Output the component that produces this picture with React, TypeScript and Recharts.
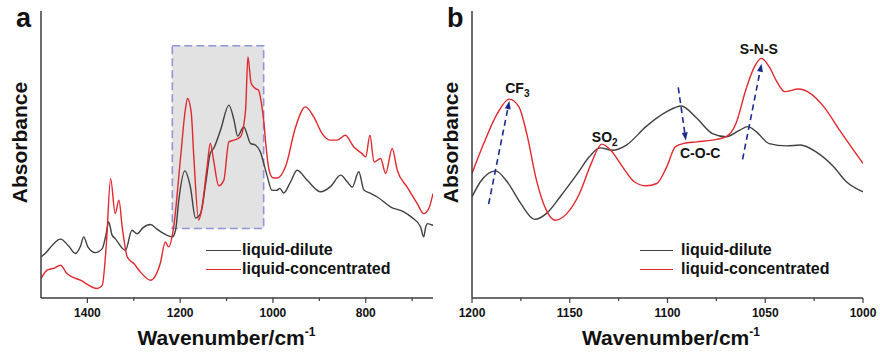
import React from 'react';
import { LineChart, Line, XAxis, YAxis, ReferenceArea, ReferenceLine, ReferenceDot, Legend } from 'recharts';

const FONT = '"Liberation Sans", Arial, Helvetica, sans-serif';
const INK = '#111';
const FRAME = '#3c3c3c';
const DILUTE = '#404040';
const CONC = '#e0282e';
const ARROW = '#1c2a8c';

// panel a: full spectrum
const waveA_dilute = [1500, 1491, 1475, 1458, 1440, 1426, 1415, 1408, 1399, 1383, 1368, 1360, 1354, 1347, 1340, 1318, 1304, 1293, 1280, 1264, 1250, 1235, 1217, 1210, 1203, 1190, 1178, 1167, 1156, 1145, 1135, 1128, 1113, 1095, 1084, 1076, 1063, 1048, 1038, 1027, 1020, 1012, 1002, 992, 985, 977, 962, 948, 926, 897, 876, 854, 840, 829, 815, 804, 790, 775, 746, 718, 700, 682, 675, 671, 667, 655];
const absA_dilute = [14.3, 15.5, 18.5, 20.5, 18, 15.5, 18, 21.3, 17.8, 15.8, 17.2, 22, 26.5, 22, 20.7, 16.6, 23.6, 22.4, 24.5, 25.6, 24, 22.4, 21.3, 23.6, 34.1, 44.3, 38.7, 27.9, 29.4, 39.9, 50.5, 52.1, 58.5, 67.2, 62.0, 56.4, 59.6, 53.8, 53.3, 50.9, 47, 42.2, 37.5, 37.5, 38.2, 36.6, 40.5, 44.5, 41.0, 37.0, 38.8, 42.8, 40.5, 38.7, 44.0, 37.6, 36.5, 35.2, 31.7, 30.0, 28, 24.8, 21.3, 24.5, 25.9, 25.3];

const waveA_conc = [1500, 1487, 1470, 1458, 1444, 1415, 1379, 1368, 1359, 1350, 1340, 1332, 1325, 1314, 1300, 1286, 1264, 1243, 1232, 1225, 1214, 1199, 1189, 1184, 1176, 1171, 1160, 1153, 1142, 1135, 1128, 1117, 1106, 1095, 1084, 1070, 1059, 1054, 1047, 1038, 1031, 1025, 1020, 1015, 1010, 1004, 998, 991, 973, 951, 930, 912, 894, 876, 862, 844, 826, 808, 800, 791, 782, 768, 757, 743, 732, 711, 689, 675, 664, 655];
const absA_conc = [6.7, 9.7, 10.5, 11.4, 8.5, 6.2, 3.3, 4.4, 19.0, 41.6, 29.4, 34.1, 24.8, 14.3, 12.0, 9.1, 6.2, 12.0, 19.5, 17.8, 24.8, 49.2, 65.5, 69.5, 64.3, 50.3, 27.1, 31.7, 45.7, 53.9, 48.0, 39.1, 41.0, 54.4, 55.0, 56.2, 65.5, 84.0, 74.8, 73.0, 72.4, 68, 62, 53, 46, 42.5, 41.8, 41.8, 45.7, 59.7, 66.6, 63.1, 57.3, 55.0, 55.0, 56.7, 52.7, 50.3, 49.2, 56.7, 47.4, 48.6, 43.4, 52.1, 44.5, 38.7, 32.9, 29.4, 31.2, 36.4];

// panel b: 1200-1000 zoom
const waveB_dilute = [1200, 1195.7, 1188, 1182, 1175, 1168, 1162, 1155, 1146, 1140, 1134.5, 1128, 1121, 1111, 1100.4, 1093, 1085, 1077, 1070, 1063, 1059, 1054.5, 1048, 1039, 1032, 1024, 1015, 1008.5, 1000];
const absB_dilute = [35.2, 40.5, 44.3, 40.5, 32.9, 27.4, 29.4, 35.2, 43.4, 49.2, 52.3, 51.5, 53.3, 59.7, 64.9, 66.9, 62.6, 57.3, 56.2, 58.5, 59.7, 57.9, 53.8, 53.0, 53.3, 50.9, 45.7, 40.5, 37.0];

const waveB_conc = [1200, 1194, 1187, 1181, 1176, 1172, 1167, 1162, 1157.5, 1151.5, 1145, 1139, 1133.6, 1129, 1123, 1117, 1111, 1105.5, 1100.4, 1096, 1092, 1085, 1077, 1070, 1065, 1060, 1055.5, 1052, 1048, 1044, 1040, 1033, 1027, 1020, 1012, 1000];
const absB_conc = [43.4, 53.8, 64.3, 69.3, 66.6, 57.3, 41.0, 30.6, 27.1, 29.4, 36.4, 46.9, 53.6, 51.5, 45.7, 40.5, 39.1, 39.9, 45.7, 52.7, 53.8, 54.4, 55.0, 56.2, 60.8, 72.4, 80.6, 83.5, 80.6, 75.3, 71.9, 72.8, 71.3, 66.6, 58.5, 46.9];

const ticksA = [1400, 1300, 1200, 1100, 1000, 900, 800, 700];
const majorA = [1400, 1200, 1000, 800];
const ticksB = [1200, 1175, 1150, 1125, 1100, 1075, 1050, 1025, 1000];
const majorB = [1200, 1150, 1100, 1050, 1000];

const SERIES = ['liquid-dilute', 'liquid-concentrated'];

// highlighted region in panel a
const boxA = { x1: 1217, x2: 1020, y1: 24.2, y2: 87.9 };

// panel b annotations
const peakLabels = [
  { x: 1183, y: 71.3, main: 'CF', sub: '3' },
  { x: 1138.7, y: 54.4, main: 'SO', sub: '2' },
  { x: 1093.6, y: 48.7, main: 'C-O-C', sub: '' },
  { x: 1063, y: 85.0, main: 'S-N-S', sub: '' },
];
const shiftArrows = [
  { from: [1191.5, 32.7], to: [1180.9, 68.6] },
  { from: [1094.5, 73.4], to: [1090.6, 54.9] },
  { from: [1061.6, 48.3], to: [1051.9, 81.6] },
];

const pts = (xs: number[], ys: number[]) => xs.map((x, i) => ({ x, y: ys[i] }));

const makeTick = (majors: number[]) => (props: any) => {
  const { x, y, payload } = props;
  const major = majors.includes(payload.value);
  return (
    <g>
      <line x1={x} x2={x} y1={y} y2={y + (major ? 5 : 3)} stroke={FRAME} strokeWidth={1.2} />
      {major && (
        <text x={x} y={y + 19} textAnchor="middle" fontFamily={FONT} fontWeight={700} fontSize={12} fill={INK}>
          {payload.value}
        </text>
      )}
    </g>
  );
};

const xTitle = (dx: number) => (props: any) => {
  const vb = props.viewBox;
  const cx = vb.x + vb.width / 2 + dx;
  return (
    <text x={cx} y={vb.y + 47} textAnchor="middle" fontFamily={FONT} fontWeight={700} fontSize={21} fill={INK}>
      Wavenumber/cm<tspan dy={-9} fontSize={12}>-1</tspan>
    </text>
  );
};

const yTitle = (bx: number) => (props: any) => {
  const vb = props.viewBox;
  const x = vb.x + bx;
  const y = vb.y + vb.height / 2 - 12;
  return (
    <text x={x} y={y} transform={`rotate(-90 ${x} ${y})`} textAnchor="middle" fontFamily={FONT} fontWeight={700} fontSize={21} fill={INK}>
      Absorbance
    </text>
  );
};

const legendBox = (lineW: number, gap: number) => (props: any) => {
  const items = [...(props.payload || [])].sort((a: any, b: any) => SERIES.indexOf(a.value) - SERIES.indexOf(b.value));
  return (
    <div style={{ fontFamily: FONT, fontWeight: 700, fontSize: 16, color: INK }}>
      {items.map((p: any) => (
        <div key={p.value} style={{ display: 'flex', alignItems: 'center', height: 19, whiteSpace: 'nowrap' }}>
          <span style={{ display: 'inline-block', width: lineW, borderTop: `1.5px solid ${p.color}`, marginRight: gap }} />
          {p.value}
        </div>
      ))}
    </div>
  );
};

const arrowShape = (props: any) => {
  const { x1, y1, x2, y2 } = props;
  const a = Math.atan2(y2 - y1, x2 - x1);
  const len = 8;
  const w = 3;
  const bx = x2 - len * Math.cos(a);
  const by = y2 - len * Math.sin(a);
  const px = -Math.sin(a) * w;
  const py = Math.cos(a) * w;
  return (
    <g>
      <line x1={x1} y1={y1} x2={bx} y2={by} stroke={ARROW} strokeWidth={1.6} strokeDasharray="6 4" />
      <polygon points={`${x2},${y2} ${bx + px},${by + py} ${bx - px},${by - py}`} fill={ARROW} />
    </g>
  );
};

const labelShape = (main: string, sub: string) => (props: any) => (
  <text x={props.cx} y={props.cy} fontFamily={FONT} fontWeight={700} fontSize={14} fill={INK}>
    {main}
    {sub && <tspan dy={4} fontSize={10}>{sub}</tspan>}
  </text>
);

const frameLine = { stroke: FRAME, strokeWidth: 1.5 };

function PanelA() {
  return (
    <LineChart width={440} height={352} margin={{ top: 11, right: 7, bottom: 0, left: 0 }}>
      <ReferenceArea x1={boxA.x1} x2={boxA.x2} y1={boxA.y1} y2={boxA.y2} fill="#e2e2e2" fillOpacity={1} stroke="#9096d4" strokeWidth={1.6} strokeDasharray="8 4" />
      <XAxis type="number" dataKey="x" domain={[655, 1500]} reversed allowDataOverflow ticks={ticksA} interval={0}
        tickSize={0} tickMargin={0} tickLine={false} tick={makeTick(majorA)} axisLine={frameLine} height={54}
        label={{ content: xTitle(-10.5) }} />
      <XAxis xAxisId="top" orientation="top" type="number" domain={[655, 1500]} reversed tick={false} tickLine={false} axisLine={frameLine} height={0} />
      <YAxis type="number" domain={[0, 100]} allowDataOverflow tick={false} tickLine={false} axisLine={frameLine} width={41}
        label={{ content: yTitle(27) }} />
      <YAxis yAxisId="r" orientation="right" type="number" domain={[0, 100]} tick={false} tickLine={false} axisLine={frameLine} width={0} />
      <Legend layout="vertical" align="center" verticalAlign="middle" wrapperStyle={{ left: 206, top: 240.5, width: 'auto' }} content={legendBox(35, 1)} />
      <Line data={pts(waveA_dilute, absA_dilute)} dataKey="y" name={SERIES[0]} type="monotone" stroke={DILUTE} strokeWidth={1.4} dot={false} isAnimationActive={false} />
      <Line data={pts(waveA_conc, absA_conc)} dataKey="y" name={SERIES[1]} type="monotone" stroke={CONC} strokeWidth={1.4} dot={false} isAnimationActive={false} />
    </LineChart>
  );
}

function PanelB() {
  return (
    <LineChart width={440} height={352} margin={{ top: 11, right: 17, bottom: 0, left: 0 }}>
      <XAxis type="number" dataKey="x" domain={[1000, 1200]} reversed allowDataOverflow ticks={ticksB} interval={0}
        tickSize={0} tickMargin={0} tickLine={false} tick={makeTick(majorB)} axisLine={frameLine} height={54}
        label={{ content: xTitle(3.5) }} />
      <XAxis xAxisId="top" orientation="top" type="number" domain={[1000, 1200]} reversed tick={false} tickLine={false} axisLine={frameLine} height={0} />
      <YAxis type="number" domain={[0, 100]} allowDataOverflow tick={false} tickLine={false} axisLine={frameLine} width={32}
        label={{ content: yTitle(17.5) }} />
      <YAxis yAxisId="r" orientation="right" type="number" domain={[0, 100]} tick={false} tickLine={false} axisLine={frameLine} width={0} />
      <Legend layout="vertical" align="center" verticalAlign="middle" wrapperStyle={{ left: 200, top: 240.5, width: 'auto' }} content={legendBox(33, 8)} />
      <Line data={pts(waveB_dilute, absB_dilute)} dataKey="y" name={SERIES[0]} type="monotone" stroke={DILUTE} strokeWidth={1.4} dot={false} isAnimationActive={false} />
      <Line data={pts(waveB_conc, absB_conc)} dataKey="y" name={SERIES[1]} type="monotone" stroke={CONC} strokeWidth={1.4} dot={false} isAnimationActive={false} />
      {shiftArrows.map((a, i) => (
        <ReferenceLine key={`arr-${i}`} segment={[{ x: a.from[0], y: a.from[1] }, { x: a.to[0], y: a.to[1] }]} shape={arrowShape} />
      ))}
      {peakLabels.map((l) => (
        <ReferenceDot key={l.main} x={l.x} y={l.y} r={0} shape={labelShape(l.main, l.sub)} />
      ))}
    </LineChart>
  );
}

const panelLetter: React.CSSProperties = {
  position: 'absolute', top: 0, fontFamily: FONT, fontWeight: 700, fontSize: 27, color: INK, lineHeight: '36px',
};

export default function App() {
  return (
    <div style={{ position: 'absolute', left: 0, top: 0, width: 880, height: 352, background: '#fff', overflow: 'hidden' }}>
      <div style={{ position: 'absolute', left: 0, top: 0 }}><PanelA /></div>
      <div style={{ position: 'absolute', left: 440, top: 0 }}><PanelB /></div>
      <div style={{ ...panelLetter, left: 16 }}>a</div>
      <div style={{ ...panelLetter, left: 447 }}>b</div>
    </div>
  );
}
